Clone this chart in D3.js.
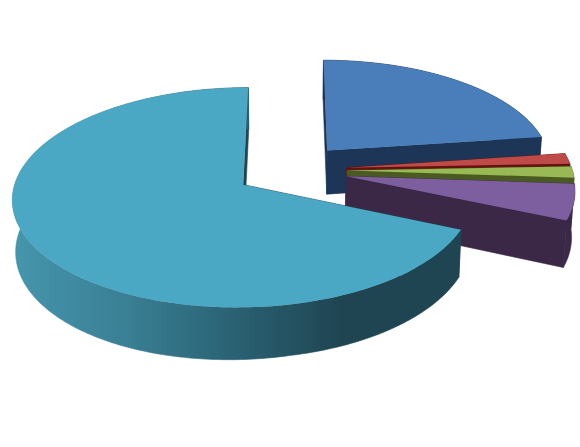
<!DOCTYPE html>
<html>
<head>
<meta charset="utf-8">
<script src="https://cdn.jsdelivr.net/npm/d3@7"></script>
<style>
  html, body { margin: 0; padding: 0; background: #fff; }
  svg { display: block; }
</style>
</head>
<body>
<div id="chart"></div>
<script>
// shares of the pie in percent, clockwise from 12 o'clock
const sliceIds = ['blue', 'red', 'green', 'purple', 'teal']
const sliceShares = [22.8, 1.6, 1.7, 5.4, 68.5]

const svgWidth = 580
const svgHeight = 447

// camera: vanishing point, radius on screen, tilt and perspective strength
const vx = 291
const vy = 170
const radiusX = 225
const radiusY = 105
const perspective = 0.115
const thickness = 44.5
const sideTilt = 5
const converge = 0.012
const explode = 0.25

const faceColor = d3.scaleOrdinal()
  .domain(sliceIds)
  .range(['#4a7ebb', '#be4b48', '#98b954', '#7d5fa0', '#4aa8c4'])
const wallColor = d3.scaleOrdinal()
  .domain(sliceIds)
  .range(['#1d3557', '#651210', '#4a5a22', '#3a2846', '#1f4552'])

const svg = d3.select('#chart').append('svg')
  .attr('width', svgWidth)
  .attr('height', svgHeight)

const grad = svg.append('defs').append('linearGradient')
  .attr('id', 'tealRim')
  .attr('gradientUnits', 'userSpaceOnUse')
  .attr('x1', 12).attr('x2', 340).attr('y1', 0).attr('y2', 0)
grad.append('stop').attr('offset', '0%').attr('stop-color', '#4596ad')
grad.append('stop').attr('offset', '35%').attr('stop-color', '#3a7f94')
grad.append('stop').attr('offset', '65%').attr('stop-color', '#2b6476')
grad.append('stop').attr('offset', '100%').attr('stop-color', '#1f4552')

function project (x, y, down) {
  const w = 1 / (1 - perspective * y)
  const px = vx + radiusX * x * w
  const py = vy + radiusY * y * w
  if (!down) return [px, py]
  // the left side of the reference's wall hangs a bit lower
  return [vx + (px - vx) * (1 - converge), py + thickness * w + sideTilt * Math.max(0, -x)]
}

const pie = d3.pie().sort(null).value((d) => d)
const arcs = pie(sliceShares)

const line = d3.line()
const pathOf = (pts) => line(pts) + 'Z'

const g = svg.append('g')

arcs.forEach((a, i) => {
  const id = sliceIds[i]
  const mid = (a.startAngle + a.endAngle) / 2
  const cx = Math.sin(mid) * explode
  const cy = -Math.cos(mid) * explode

  const steps = Math.max(2, Math.ceil((a.endAngle - a.startAngle) / (Math.PI / 180)))
  const angles = d3.range(steps + 1).map((s) => a.startAngle + (a.endAngle - a.startAngle) * s / steps)
  const rimAt = (t) => [cx + Math.sin(t), cy - Math.cos(t)]

  const rimTop = angles.map((t) => project(...rimAt(t), false))
  const rimBottom = angles.map((t) => project(...rimAt(t), true))
  const apexTop = project(cx, cy, false)
  const apexBottom = project(cx, cy, true)

  const slice = g.append('g').attr('class', 'slice-' + id)

  // radial walls, stroked so the joins to the rim do not show
  slice.append('path')
    .attr('d', pathOf([apexTop, rimTop[0], rimBottom[0], apexBottom]))
    .attr('fill', wallColor(id))
    .attr('stroke', wallColor(id))
    .attr('stroke-width', 0.6)
  slice.append('path')
    .attr('d', pathOf([apexTop, rimTop[steps], rimBottom[steps], apexBottom]))
    .attr('fill', wallColor(id))
    .attr('stroke', wallColor(id))
    .attr('stroke-width', 0.6)

  // outer rim
  const rimColor = id === 'teal' ? 'url(#tealRim)' : wallColor(id)
  slice.append('path')
    .attr('d', pathOf(rimTop.concat(rimBottom.slice().reverse())))
    .attr('fill', rimColor)
    .attr('stroke', rimColor)
    .attr('stroke-width', 0.6)

  // top face
  slice.append('path')
    .attr('d', pathOf([apexTop].concat(rimTop)))
    .attr('fill', faceColor(id))
})
</script>
</body>
</html>
